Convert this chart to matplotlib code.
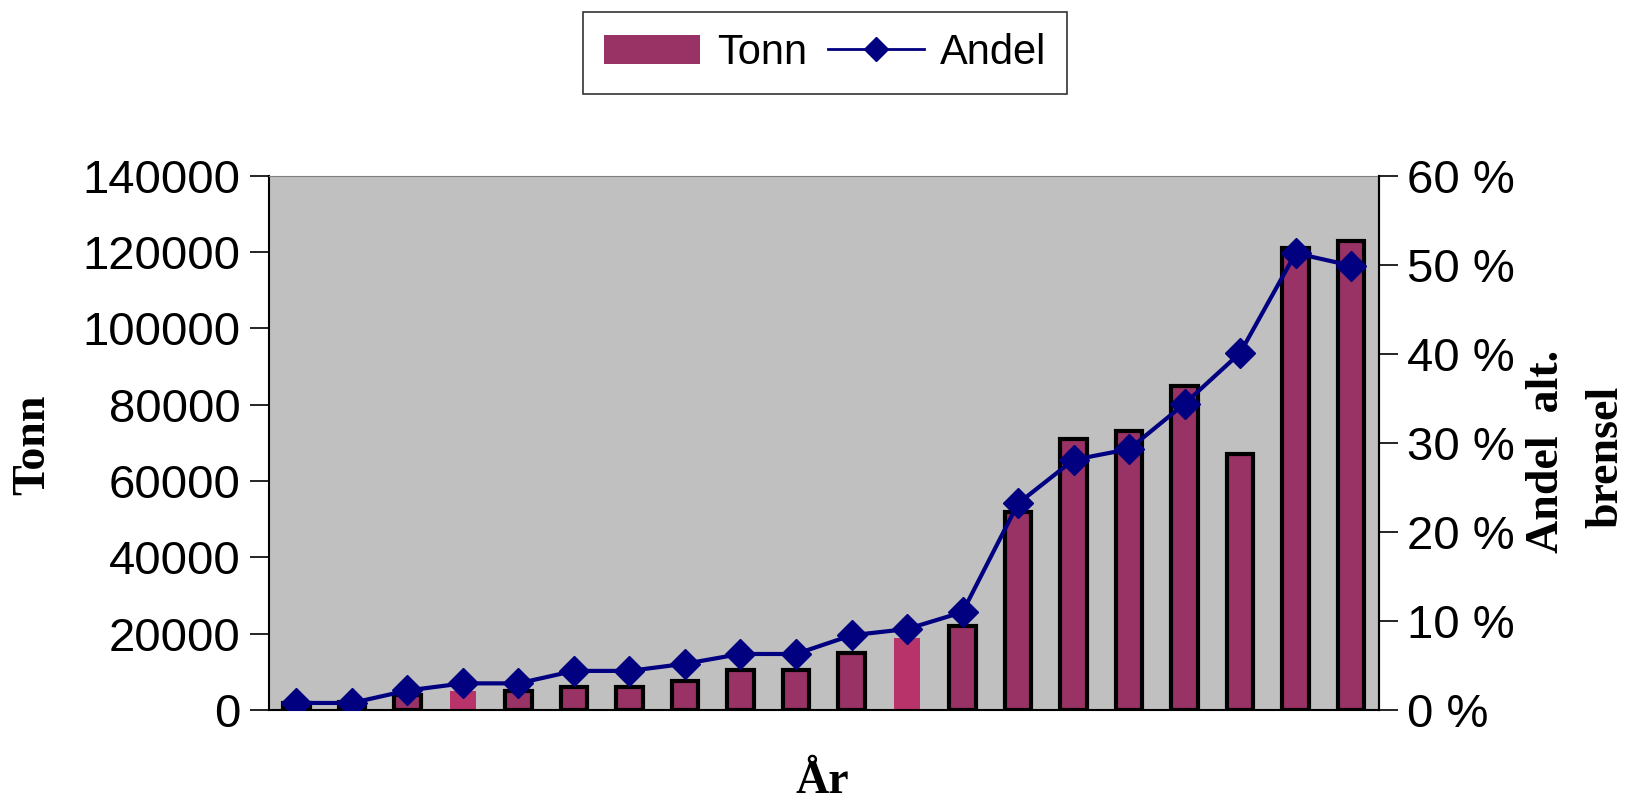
import numpy as np
import matplotlib.pyplot as plt
from matplotlib.patches import Patch
from matplotlib.lines import Line2D
from matplotlib.ticker import FuncFormatter

# data (20 years, no year labels shown)
tonn = [1800, 2000, 4000, 5000, 5000, 6000, 6000, 7500, 10500, 10500,
        15000, 19000, 22000, 52000, 71000, 73000, 85000, 67000, 121000, 123000]
andel = [0.8, 0.8, 2.2, 3.0, 3.0, 4.4, 4.4, 5.2, 6.3, 6.3,
         8.4, 9.1, 11.0, 23.2, 28.1, 29.3, 34.4, 40.1, 51.3, 49.9]
# two bars in the scan show without the black outline
no_edge = [3, 11]

bar_col = '#993366'
line_col = '#000080'

plt.rcParams['font.family'] = 'Liberation Sans'

fig = plt.figure(figsize=(16.28, 8.06), dpi=100)
ax = fig.add_axes([0.165, 0.119, 0.682, 0.663])
ax.set_facecolor('#C0C0C0')

x = np.arange(len(tonn))
edges = ['none' if i in no_edge else 'black' for i in x]
faces = ['#B8336A' if i in no_edge else bar_col for i in x]
ax.bar(x, tonn, width=0.48, color=faces, edgecolor=edges, linewidth=3, zorder=2)
ax.set_xlim(-0.5, len(tonn) - 0.5)
ax.set_ylim(0, 140000)
ax.set_yticks(np.arange(0, 140001, 20000))
ax.set_xticks([])
ax.tick_params(axis='y', labelsize=34, length=14, width=1.2, pad=6)
for s in ['left', 'bottom', 'right']:
    ax.spines[s].set_color('black')
    ax.spines[s].set_linewidth(1.5)
ax.spines['top'].set_color('#808080')

ax2 = ax.twinx()
ax2.plot(x, andel, color=line_col, lw=3, marker='D', markersize=15, zorder=3)
ax2.set_ylim(0, 60)
ax2.set_yticks(np.arange(0, 61, 10))
ax2.yaxis.set_major_formatter(FuncFormatter(lambda v, p: f'{v:.0f} %'))
ax2.tick_params(axis='y', labelsize=34, length=14, width=1.2, pad=6)
for s in ax2.spines.values():
    s.set_visible(False)
ax2.spines['right'].set_visible(True)
ax2.spines['right'].set_linewidth(1.5)

serif = dict(family='Liberation Serif', fontweight='bold', fontsize=33)
fig.text(0.0205, 0.448, 'Tonn', rotation=90, ha='center', va='center', **serif)
fig.text(0.505, 0.016, 'År', ha='center', va='baseline', **serif)
fig.text(0.950, 0.44, 'Andel  alt.', rotation=90, ha='center', va='center', **serif)
fig.text(0.987, 0.433, 'brensel', rotation=90, ha='center', va='center', **serif)

handles = [Patch(facecolor=bar_col, edgecolor='none'),
           Line2D([], [], color=line_col, lw=2, marker='D', markersize=12)]
leg = fig.legend(handles, ['Tonn', 'Andel'], loc='upper center',
                 bbox_to_anchor=(0.507, 0.985), borderaxespad=0, ncol=2,
                 fontsize=30, frameon=True, fancybox=False, edgecolor='black',
                 handlelength=2.3, handletextpad=0.4, columnspacing=0.5,
                 borderpad=0.5)
leg.get_frame().set_linewidth(1.2)

fig.savefig('out.png', dpi=100)
